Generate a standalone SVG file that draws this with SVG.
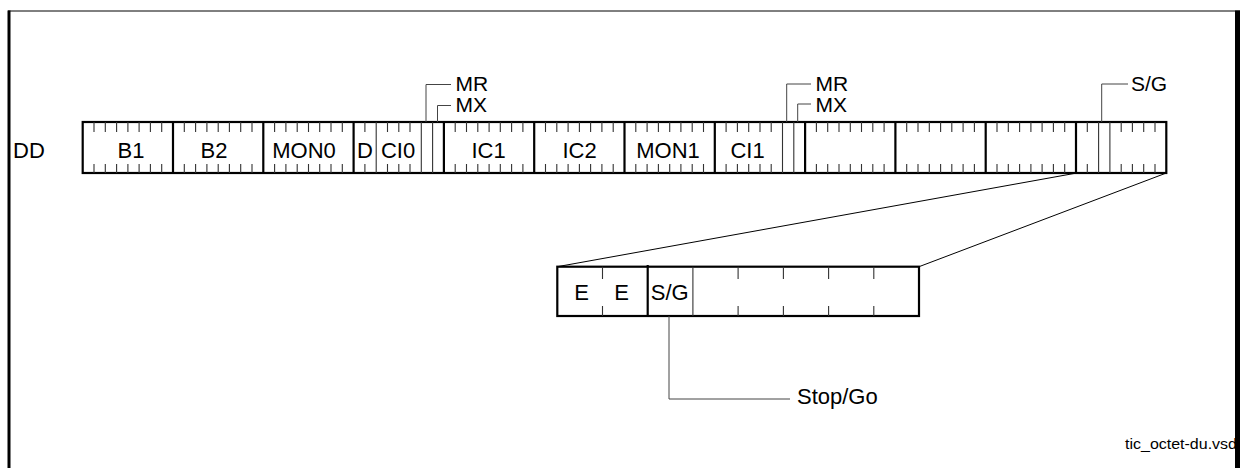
<svg xmlns="http://www.w3.org/2000/svg" width="1243" height="468" viewBox="0 0 1243 468">
<style>
  .t{font-family:"Liberation Sans",Arial,sans-serif;font-size:22px;fill:#000}
  .s{font-size:21px}
  .m{text-anchor:middle}
  .out{fill:none;stroke:#000;stroke-width:2.2}
  .div{stroke:#000;stroke-width:2.2;fill:none}
  .tick{stroke:#333;stroke-width:1.1;fill:none}
  .thin{stroke:#333;stroke-width:1.1;fill:none}
  .lead{stroke:#444;stroke-width:1;fill:none}
  .conn{stroke:#000;stroke-width:1;fill:none}
</style>
<g id="frame">
  <line x1="8" y1="11" x2="1240" y2="11" stroke="#000" stroke-width="1"/>
  <rect x="7.5" y="10.5" width="3" height="458" fill="#000"/>
</g>
<g id="label-dd"><text class="t" x="13" y="158">DD</text></g>
<g id="frame-bar">
  <rect class="out" x="82.7" y="122" width="1083.6" height="51"/>
  <path class="div" d="M173 122V173M263.3 122V173M353.6 122V173M443.9 122V173M534.2 122V173M624.5 122V173M714.8 122V173M805.1 122V173M895.4 122V173M985.7 122V173M1076 122V173"/>
  <path class="tick" d="M94 122v10M105.3 122v10M116.6 122v10M127.9 122v10M139.1 122v10M150.4 122v10M161.7 122v10
  M94 173v-9M105.3 173v-9M116.6 173v-9M127.9 173v-9M139.1 173v-9M150.4 173v-9M161.7 173v-9
  M184.3 122v10M195.6 122v10M206.9 122v10M218.2 122v10M229.4 122v10M240.7 122v10M252 122v10
  M184.3 173v-9M195.6 173v-9M206.9 173v-9M218.2 173v-9M229.4 173v-9M240.7 173v-9M252 173v-9
  M274.6 122v10M285.9 122v10M297.2 122v10M308.5 122v10M319.7 122v10M331 122v10M342.3 122v10
  M274.6 173v-9M285.9 173v-9M297.2 173v-9M308.5 173v-9M319.7 173v-9M331 173v-9M342.3 173v-9
  M364.9 122v10M387.5 122v10M398.8 122v10M410 122v10
  M364.9 173v-9M387.5 173v-9M398.8 173v-9M410 173v-9
  M455.2 122v10M466.5 122v10M477.8 122v10M489.1 122v10M500.3 122v10M511.6 122v10M522.9 122v10
  M455.2 173v-9M466.5 173v-9M477.8 173v-9M489.1 173v-9M500.3 173v-9M511.6 173v-9M522.9 173v-9
  M545.5 122v10M556.8 122v10M568.1 122v10M579.4 122v10M590.6 122v10M601.9 122v10M613.2 122v10
  M545.5 173v-9M556.8 173v-9M568.1 173v-9M579.4 173v-9M590.6 173v-9M601.9 173v-9M613.2 173v-9
  M635.8 122v10M647.1 122v10M658.4 122v10M669.7 122v10M680.9 122v10M692.2 122v10M703.5 122v10
  M635.8 173v-9M647.1 173v-9M658.4 173v-9M669.7 173v-9M680.9 173v-9M692.2 173v-9M703.5 173v-9
  M726.1 122v10M737.4 122v10M748.7 122v10M760 122v10M771.2 122v10
  M726.1 173v-9M737.4 173v-9M748.7 173v-9M760 173v-9M771.2 173v-9
  M816.4 122v10M827.7 122v10M839 122v10M850.3 122v10M861.5 122v10M872.8 122v10M884.1 122v10
  M816.4 173v-9M827.7 173v-9M839 173v-9M850.3 173v-9M861.5 173v-9M872.8 173v-9M884.1 173v-9
  M906.7 122v10M918 122v10M929.3 122v10M940.6 122v10M951.8 122v10M963.1 122v10M974.4 122v10
  M906.7 173v-9M918 173v-9M929.3 173v-9M940.6 173v-9M951.8 173v-9M963.1 173v-9M974.4 173v-9
  M997 122v10M1008.3 122v10M1019.6 122v10M1030.9 122v10M1042.1 122v10M1053.4 122v10M1064.7 122v10
  M997 173v-9M1008.3 173v-9M1019.6 173v-9M1030.9 173v-9M1042.1 173v-9M1053.4 173v-9M1064.7 173v-9
  M1087.3 122v10M1121.2 122v10M1132.4 122v10M1143.7 122v10M1155 122v10
  M1087.3 173v-9M1121.2 173v-9M1132.4 173v-9M1143.7 173v-9M1155 173v-9"/>
  <path class="thin" d="M376.2 122V173M421.3 122V173M432.6 122V173M782.5 122V173M793.8 122V173M1098.6 122V173M1109.9 122V173"/>
</g>
<g id="bar-labels">
  <text class="t m" x="131" y="158">B1</text>
  <text class="t m" x="214" y="158">B2</text>
  <text class="t m" x="304" y="158">MON0</text>
  <text class="t m" x="365" y="158">D</text>
  <text class="t m" x="398" y="158">CI0</text>
  <text class="t m" x="488.5" y="158">IC1</text>
  <text class="t m" x="579.5" y="158">IC2</text>
  <text class="t m" x="668" y="158">MON1</text>
  <text class="t m" x="747.5" y="158">CI1</text>
</g>
<g id="label-mr0"><text class="t s" x="455.5" y="90.5">MR</text></g>
<g id="label-mx0"><text class="t s" x="455.5" y="112">MX</text></g>
<g id="label-mr1"><text class="t s" x="815.5" y="90.5">MR</text></g>
<g id="label-mx1"><text class="t s" x="815.5" y="112">MX</text></g>
<g id="label-sg"><text class="t s" x="1131" y="91">S/G</text></g>
<g id="expanded-octet">
  <rect class="out" x="557.3" y="266.7" width="361.7" height="49.3"/>
  <path class="div" d="M647.7 265V316"/>
  <path class="thin" d="M692.9 266.7V316"/>
  <path class="tick" d="M602.5 266.7V279M738.1 266.7V279M783.4 266.7V279M828.6 266.7V279M873.8 266.7V279
  M602.5 316V306M738.1 316V306M783.4 316V306M828.6 316V306M873.8 316V306"/>
  <text class="t m" x="581.7" y="300">E</text>
  <text class="t m" x="621.7" y="300">E</text>
  <text class="t m" x="669.7" y="300">S/G</text>
</g>
<g id="label-stopgo"><text class="t" x="797" y="404">Stop/Go</text></g>
<g id="connectors">
  <path class="lead" d="M426 122V84.5H451"/>
  <path class="lead" d="M437.5 122V105.5H451"/>
  <path class="lead" d="M786.7 122V84H811"/>
  <path class="lead" d="M797.7 122V104H811"/>
  <path class="lead" d="M1101.7 122V84H1128"/>
  <path class="conn" d="M1074 173.5L557.3 266.7"/>
  <path class="conn" d="M1165 173.5L919 266.7"/>
  <path class="lead" d="M669 316V399H790"/>
</g>
<g id="file-label"><text class="t" x="1125" y="449" style="font-size:14px" textLength="112" lengthAdjust="spacingAndGlyphs">tic_octet-du.vsd</text></g>
<g id="frame-right"><rect x="1235" y="10.5" width="5" height="458" fill="#000"/></g>
</svg>
